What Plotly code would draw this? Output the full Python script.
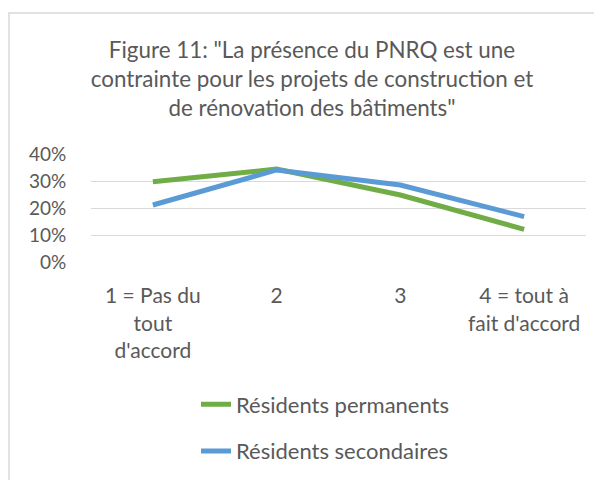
import plotly.graph_objects as go

categories = ["1 = Pas du<br>tout<br>d'accord", "2", "3", "4 = tout à<br>fait d'accord"]
permanents = [0.297, 0.344, 0.248, 0.121]
secondaires = [0.211, 0.341, 0.285, 0.168]
series_names = ["Résidents permanents", "Résidents secondaires"]
tick_vals = [0, 0.1, 0.2, 0.3, 0.4]
tick_text = ["0%", "10%", "20%", "30%", "40%"]
title_text = "Figure 11: \"La présence du PNRQ est une<br>contrainte pour les projets de construction et<br>de rénovation des bâtiments\""

FONT = "Lato"
GREY = "#595959"
W, H = 594, 472
L, R, T, B = 83, 16, 146, 218
PW, PH = W - L - R, H - T - B

fig = go.Figure()
fig.add_trace(go.Scatter(x=categories, y=permanents, mode="lines", name=series_names[0],
                         line=dict(color="#70AD47", width=5), legendgroup="a"))
fig.add_trace(go.Scatter(x=categories, y=secondaires, mode="lines", name=series_names[1],
                         line=dict(color="#5B9BD5", width=5), legendgroup="b"))

fig.update_layout(
    width=W, height=H,
    margin=dict(l=L, r=R, t=T, b=B, autoexpand=False),
    paper_bgcolor="white", plot_bgcolor="white",
    font=dict(family=FONT, color=GREY, size=18),
    title=dict(text=title_text, x=(304 - L) / PW, xanchor="center", xref="paper",
               y=1 - 50 / H, yanchor="top", yref="container",
               font=dict(family=FONT, size=22.4, color=GREY)),
    showlegend=True,
    legend=dict(orientation="v", x=(188 - L) / PW, xanchor="left",
                y=-(375.5 - (H - B)) / PH, yanchor="top",
                font=dict(family=FONT, size=22, color=GREY), tracegroupgap=15,
                bgcolor="rgba(0,0,0,0)"),
    xaxis=dict(type="category", showgrid=False, showline=False, zeroline=False,
               ticks="outside", ticklen=15, tickcolor="rgba(0,0,0,0)",
               tickfont=dict(family=FONT, size=21, color=GREY), range=[-0.5, 3.5]),
    yaxis=dict(range=[0, 0.4], tickvals=tick_vals, ticktext=tick_text,
               showgrid=True, gridcolor="#D9D9D9", gridwidth=1, zeroline=False,
               showline=False, ticks="outside", ticklen=20, tickcolor="rgba(0,0,0,0)",
               tickfont=dict(family=FONT, size=19, color=GREY)),
    shapes=[dict(type="rect", xref="paper", yref="paper",
                 x0=(1 - L) / PW, x1=1.3, y0=-3.0, y1=((H - B) - 5) / PH,
                 line=dict(color="#D9D9D9", width=1.5), fillcolor="rgba(0,0,0,0)",
                 layer="below")],
)

fig.write_html("out.html")
